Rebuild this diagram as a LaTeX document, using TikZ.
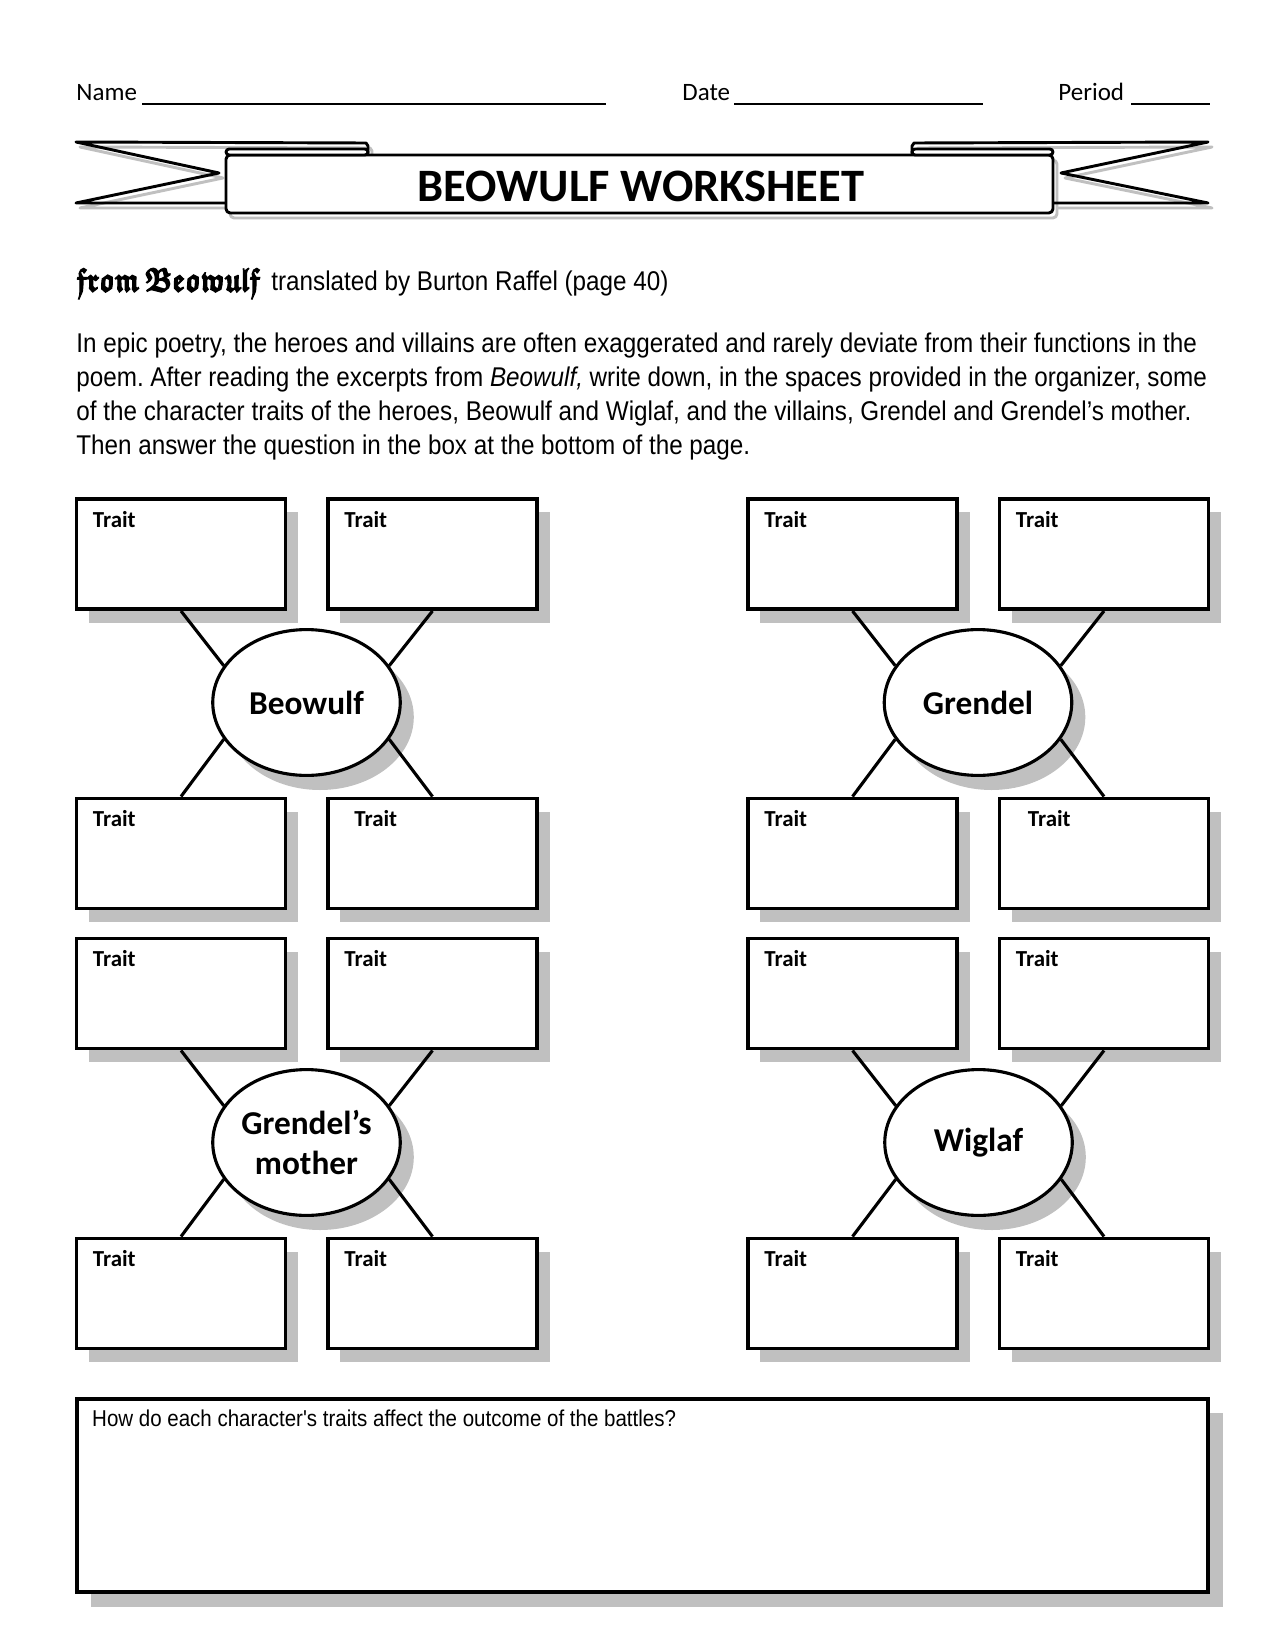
\documentclass[tikz,border=0pt]{standalone}
\usepackage{amsmath,amssymb}
\usepackage{fontspec}
\setmainfont{Liberation Sans}
\newfontfamily\calibri{Carlito}
\newfontfamily\narrow{Liberation Sans}[FakeStretch=0.895]
\usetikzlibrary{shapes.geometric,shadows}
\definecolor{shadowgray}{RGB}{192,192,192}
\frenchspacing
\tikzset{
  traitbox/.style={draw, line width=1.7pt, fill=white, minimum width=100.5pt, minimum height=53pt, inner sep=0pt,
    drop shadow={shadow xshift=6pt, shadow yshift=-6.5pt, fill=shadowgray, opacity=1}},
  charell/.style={ellipse, draw, line width=1.5pt, fill=white, minimum width=90pt, minimum height=70pt, inner sep=0pt,
    font=\calibri\bfseries\fontsize{16}{19.2}\selectfont, align=center,
    drop shadow={shadow xshift=6.5pt, shadow yshift=-7pt, fill=shadowgray, opacity=1}},
  conn/.style={line width=1.5pt},
  traitlbl/.style={anchor=base west, inner sep=0pt, font=\calibri\bfseries\fontsize{11}{13}\selectfont},
  para/.style={anchor=base west, inner sep=0pt, font=\narrow\fontsize{13}{16}\selectfont},
  headlbl/.style={anchor=base west, inner sep=0pt, font=\calibri\fontsize{12}{14}\selectfont},
  uline/.style={line width=1.3pt},
  bannerline/.style={line width=1.4pt, line join=round},
  bannershadow/.style={line width=1.4pt, draw=shadowgray, line join=round},
}
\begin{document}
\begin{tikzpicture}[x=0.48pt,y=-0.48pt]
\useasboundingbox (0,0) rectangle (1275,1650);
\fill[white] (0,0) rectangle (1275,1650);

% header
\node[headlbl] (name) at (76,101) {Name};
\coordinate (nameA) at (142,104); \coordinate (nameB) at (606,104);
\draw[uline] (nameA) -- (nameB);
\node[headlbl] (date) at (682,101) {Date};
\coordinate (dateA) at (734,104); \coordinate (dateB) at (983,104);
\draw[uline] (dateA) -- (dateB);
\node[headlbl] (period) at (1058,101) {Period};
\coordinate (perA) at (1131,104); \coordinate (perB) at (1210,104);
\draw[uline] (perA) -- (perB);

% banner shadow
\begin{scope}[shift={(4,5)}]
  \draw[bannershadow] (226,203) -- (76,203) -- (219,173) -- (76,142) -- (366,143) -- (368,146) -- (368,155);
  \draw[bannershadow] (1053,203) -- (1208,203) -- (1061,173) -- (1208,142) -- (914,143) -- (912,146) -- (912,155);
  \draw[bannershadow, rounded corners=2pt] (226,155) rectangle (1053,213);
\end{scope}
% banner
\draw[bannerline, fill=white, rounded corners=2pt] (226,155) rectangle (1053,213);
\draw[bannerline, fill=white, rounded corners=1.5pt] (226,149) rectangle (368,155);
\draw[bannerline, fill=white, rounded corners=1.5pt] (912,149) rectangle (1053,155);
\draw[bannerline] (226,203) -- (76,203) -- (219,173) -- (76,142) -- (366,143) -- (368,146) -- (368,155);
\draw[bannerline] (1053,203) -- (1208,203) -- (1061,173) -- (1208,142) -- (914,143) -- (912,146) -- (912,155);
\node[anchor=base, inner sep=0pt, font=\calibri\bfseries\fontsize{22.3}{26}\selectfont] (title) at (641,202) {BEOWULF WORKSHEET};

% source line
\node[anchor=base west, inner sep=0pt, font=\fontsize{16}{20}\selectfont] (src) at (76,291) {\special{pdf:code 2 Tr 0.7 w}\resizebox{88pt}{11pt}{$\boldsymbol{\mathfrak{from}\,\mathfrak{Beowulf}}$}\special{pdf:code 0 Tr}};
\node[para] (trans) at (271,291) {translated by Burton Raffel (page 40)};

% paragraph
\node[para] (p1) at (76,353) {In epic poetry, the heroes and villains are often exaggerated and rarely deviate from their functions in the};
\node[para] (p2) at (76,387) {poem. After reading the excerpts from \textit{Beowulf,} write down, in the spaces provided in the organizer, some};
\node[para] (p3) at (76,420) {of the character traits of the heroes, Beowulf and Wiglaf, and the villains, Grendel and Grendel’s mother.};
\node[para] (p4) at (76,454) {Then answer the question in the box at the bottom of the page.};

% Beowulf group
\node[traitbox] (b1) at (181,554) {};
\node[traitbox] (b2) at (432.5,554) {};
\node[traitbox] (b3) at (181,853.5) {};
\node[traitbox] (b4) at (432.5,853.5) {};
\node[charell] (beo) at (306.5,702.5) {Beowulf};
% Grendel group
\node[traitbox] (g1) at (852.5,554) {};
\node[traitbox] (g2) at (1104,554) {};
\node[traitbox] (g3) at (852.5,853.5) {};
\node[traitbox] (g4) at (1104,853.5) {};
\node[charell] (gre) at (978,702.5) {Grendel};
% Grendel's mother group
\node[traitbox] (m1) at (181,993.5) {};
\node[traitbox] (m2) at (432.5,993.5) {};
\node[traitbox] (m3) at (181,1293.5) {};
\node[traitbox] (m4) at (432.5,1293.5) {};
\node[charell] (gm) at (306.5,1142.5) {Grendel’s\\mother};
% Wiglaf group
\node[traitbox] (w1) at (852.5,993.5) {};
\node[traitbox] (w2) at (1104,993.5) {};
\node[traitbox] (w3) at (852.5,1293.5) {};
\node[traitbox] (w4) at (1104,1293.5) {};
\node[charell] (wig) at (978.5,1142.5) {Wiglaf};

% connectors
\foreach \e/\a/\b/\c/\d in {beo/b1/b2/b3/b4, gre/g1/g2/g3/g4, gm/m1/m2/m3/m4, wig/w1/w2/w3/w4}{
  \draw[conn] (\a.south) -- (\e.156);
  \draw[conn] (\b.south) -- (\e.24);
  \draw[conn] (\e.204) -- (\c.north);
  \draw[conn] (\e.336) -- (\d.north);
}

% trait labels
\foreach \n in {b1,b2,b3,g1,g2,g3,m1,m2,m3,m4,w1,w2,w3,w4}{
  \node[traitlbl] (t\n) at ([shift={(18,30)}]\n.north west) {Trait};
}
\node[traitlbl] (tb4) at ([shift={(28,30)}]b4.north west) {Trait};
\node[traitlbl] (tg4) at ([shift={(30,30)}]g4.north west) {Trait};

% question box
\node[draw, line width=2pt, fill=white, minimum width=543pt, minimum height=93pt, inner sep=0pt,
  drop shadow={shadow xshift=7pt, shadow yshift=-7pt, fill=shadowgray, opacity=1}] (q) at (642.5,1495.5) {};
\node[anchor=base west, inner sep=0pt, font=\narrow\fontsize{11}{13}\selectfont] (qt) at ([shift={(17,30)}]q.north west) {How do each character's traits affect the outcome of the battles?};
\end{tikzpicture}
\end{document}
